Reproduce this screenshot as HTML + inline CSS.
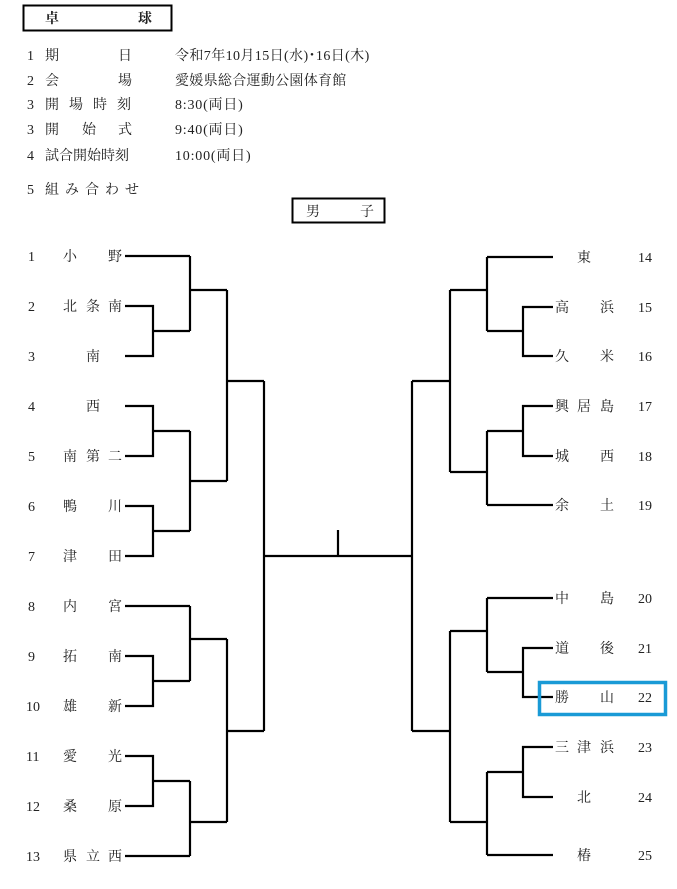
<!DOCTYPE html>
<html><head><meta charset="utf-8"><style>
html,body{margin:0;padding:0;background:#fff;width:677px;height:889px;overflow:hidden}
svg text{font-family:"Liberation Serif","Noto Serif CJK SC",serif;font-size:14px;fill:#222}
</style></head><body>
<svg width="677" height="889" viewBox="0 0 677 889" xmlns="http://www.w3.org/2000/svg">
<rect x="23.5" y="5.5" width="148" height="25" fill="none" stroke="#000" stroke-width="2"/>
<text x="45" y="23" font-weight="bold">卓</text><text x="138" y="23" font-weight="bold">球</text>
<g>
<text x="27" y="60">1</text><text x="45" y="60">期</text><text x="118" y="60">日</text><text x="175" y="60" letter-spacing="0.4">令和7年10月15日(水)･16日(木)</text>
<text x="27" y="85">2</text><text x="45" y="85">会</text><text x="118" y="85">場</text><text x="175" y="85" letter-spacing="0.3">愛媛県総合運動公園体育館</text>
<text x="27" y="109">3</text><text x="45" y="109" letter-spacing="10">開場時刻</text><text x="175" y="109" letter-spacing="0.8">8:30(両日)</text>
<text x="27" y="134">3</text><text x="45" y="134">開</text><text x="82" y="134">始</text><text x="118" y="134">式</text><text x="175" y="134" letter-spacing="0.8">9:40(両日)</text>
<text x="27" y="160">4</text><text x="45" y="160">試合開始時刻</text><text x="175" y="160" letter-spacing="0.8">10:00(両日)</text>
<text x="27" y="194">5</text><text x="45" y="194" letter-spacing="6">組み合わせ</text>
</g>
<rect x="292.5" y="198.5" width="92" height="24" fill="none" stroke="#000" stroke-width="2"/>
<text x="306" y="216">男</text><text x="360" y="216">子</text>

<g fill="none" stroke="#000" stroke-width="2.2">
<path d="M125 256H190M125 306H153V356H125M153 331H190M190 256V331M190 290H227"/>
<path d="M125 406H153V456H125M153 431H190M125 506H153V556H125M153 531H190M190 431V531M190 481H227M227 290V481M227 381H264"/>
<path d="M125 606H190M125 656H153V706H125M153 681H190M190 606V681M190 639H227"/>
<path d="M125 756H153V806H125M153 781H190M125 856H190M190 781V856M190 822H227M227 639V822M227 731H264"/>
<path d="M264 381V731M264 556H412M338 530V556"/>
<path d="M553 257H487M553 307H523V356H553M523 331H487M487 257V331M487 290H450"/>
<path d="M553 406H523V456H553M523 431H487M553 505H487M487 431V505M487 472H450M450 290V472M450 381H412"/>
<path d="M553 598H487M553 648H523V697H553M523 672H487M487 598V672M487 631H450"/>
<path d="M553 747H523V797H553M523 772H487M553 855H487M487 772V855M487 822H450M450 631V822M450 731H412"/>
<path d="M412 381V731"/>
</g>
<rect x="539.5" y="682.5" width="126" height="32" fill="none" stroke="#1a9ad6" stroke-width="3.5"/>

<g>
<text x="28" y="261">1</text><text x="63" y="261">小</text><text x="108" y="261">野</text>
<text x="28" y="311">2</text><text x="63" y="311">北</text><text x="86" y="311">条</text><text x="108" y="311">南</text>
<text x="28" y="361">3</text><text x="86" y="361">南</text>
<text x="28" y="411">4</text><text x="86" y="411">西</text>
<text x="28" y="461">5</text><text x="63" y="461">南</text><text x="86" y="461">第</text><text x="108" y="461">二</text>
<text x="28" y="511">6</text><text x="63" y="511">鴨</text><text x="108" y="511">川</text>
<text x="28" y="561">7</text><text x="63" y="561">津</text><text x="108" y="561">田</text>
<text x="28" y="611">8</text><text x="63" y="611">内</text><text x="108" y="611">宮</text>
<text x="28" y="661">9</text><text x="63" y="661">拓</text><text x="108" y="661">南</text>
<text x="26" y="711">10</text><text x="63" y="711">雄</text><text x="108" y="711">新</text>
<text x="26" y="761">11</text><text x="63" y="761">愛</text><text x="108" y="761">光</text>
<text x="26" y="811">12</text><text x="63" y="811">桑</text><text x="108" y="811">原</text>
<text x="26" y="861">13</text><text x="63" y="861">県</text><text x="86" y="861">立</text><text x="108" y="861">西</text>

<text x="577" y="262">東</text><text x="638" y="262">14</text>
<text x="555" y="312">高</text><text x="600" y="312">浜</text><text x="638" y="312">15</text>
<text x="555" y="361">久</text><text x="600" y="361">米</text><text x="638" y="361">16</text>
<text x="555" y="411">興</text><text x="577" y="411">居</text><text x="600" y="411">島</text><text x="638" y="411">17</text>
<text x="555" y="461">城</text><text x="600" y="461">西</text><text x="638" y="461">18</text>
<text x="555" y="510">余</text><text x="600" y="510">土</text><text x="638" y="510">19</text>
<text x="555" y="603">中</text><text x="600" y="603">島</text><text x="638" y="603">20</text>
<text x="555" y="653">道</text><text x="600" y="653">後</text><text x="638" y="653">21</text>
<text x="555" y="702">勝</text><text x="600" y="702">山</text><text x="638" y="702">22</text>
<text x="555" y="752">三</text><text x="577" y="752">津</text><text x="600" y="752">浜</text><text x="638" y="752">23</text>
<text x="577" y="802">北</text><text x="638" y="802">24</text>
<text x="577" y="860">椿</text><text x="638" y="860">25</text>
</g>
</svg>
</body></html>
